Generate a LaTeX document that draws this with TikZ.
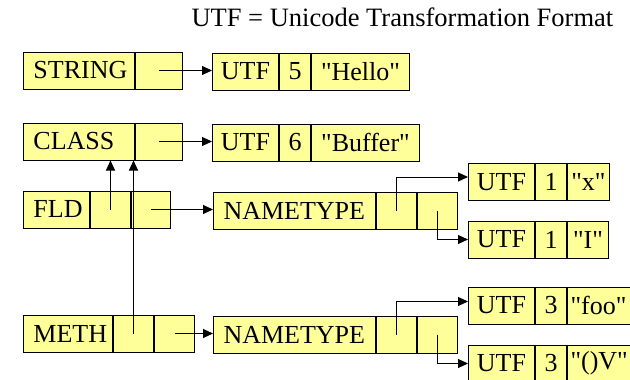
\documentclass[tikz,border=0pt]{standalone}
\usepackage{fontspec}
\setmainfont{Liberation Serif}
\usetikzlibrary{positioning,arrows.meta}
\definecolor{cellyellow}{RGB}{255,255,153}
\newcommand{\qt}[1]{\textquotedbl#1\textquotedbl}
\tikzset{
  cell/.style={draw, fill=cellyellow, line width=1pt, minimum height=37pt, inner sep=0pt},
  namecell/.style={cell, align=left, inner xsep=10pt},
  strcell/.style={cell, align=left, inner xsep=3pt},
  ptr/.style={line width=1pt, -{Triangle[length=10pt,width=9pt]}}
}
\begin{document}
\begin{tikzpicture}[x=1pt, y=-1pt, font=\fontsize{26}{30}\selectfont, node distance=0pt]
\useasboundingbox (0,0) rectangle (630,380);

\node[anchor=base west, font=\fontsize{26.5}{30}\selectfont] (title) at (188,27) {UTF = Unicode Transformation Format};

\node[namecell, text width=91pt, anchor=west] (string) at (23,70.5) {STRING};
\node[cell, minimum width=47pt, right=of string] (stringp) {};
\node[cell, minimum width=66pt, anchor=west] (utfa) at (212,71.5) {UTF};
\node[cell, minimum width=31pt, right=of utfa] (utfan) {5};
\node[cell, minimum width=98pt, right=of utfan] (utfas) {\qt{Hello}};

\node[namecell, text width=91pt, anchor=west] (class) at (23,141.5) {CLASS};
\node[cell, minimum width=47pt, right=of class] (classp) {};
\node[cell, minimum width=66pt, anchor=west] (utfb) at (212,142.5) {UTF};
\node[cell, minimum width=31pt, right=of utfb] (utfbn) {6};
\node[cell, minimum width=108pt, right=of utfbn] (utfbs) {\qt{Buffer}};

\node[namecell, text width=46pt, anchor=west] (fld) at (23,209.5) {FLD};
\node[cell, minimum width=40pt, right=of fld] (fldc) {};
\node[cell, minimum width=39pt, right=of fldc] (fldn) {};
\node[namecell, text width=142pt, anchor=west] (ntf) at (213,210.5) {NAMETYPE};
\node[cell, minimum width=40pt, right=of ntf] (ntfa) {};
\node[cell, minimum width=40pt, right=of ntfa] (ntfb) {};
\node[cell, minimum width=66pt, anchor=west] (utfx) at (468,182) {UTF};
\node[cell, minimum width=31pt, right=of utfx] (utfxn) {1};
\node[cell, minimum width=42pt, right=of utfxn] (utfxs) {\qt{x}};
\node[cell, minimum width=66pt, anchor=west] (utfi) at (468,239.5) {UTF};
\node[cell, minimum width=31pt, right=of utfi] (utfin) {1};
\node[cell, minimum width=41pt, right=of utfin] (utfis) {\qt{I}};

\node[namecell, text width=69pt, anchor=west] (meth) at (23,333.5) {METH};
\node[cell, minimum width=40pt, right=of meth] (methc) {};
\node[cell, minimum width=40pt, right=of methc] (methn) {};
\node[namecell, text width=142pt, anchor=west] (ntm) at (213,334.5) {NAMETYPE};
\node[cell, minimum width=40pt, right=of ntm] (ntma) {};
\node[cell, minimum width=40pt, right=of ntma] (ntmb) {};
\node[cell, minimum width=66pt, anchor=west] (utffoo) at (468,305.5) {UTF};
\node[cell, minimum width=31pt, right=of utffoo] (utffoon) {3};
\node[strcell, text width=64pt, right=of utffoon] (utffoos) {\qt{foo}};
\node[cell, minimum width=66pt, anchor=west] (utfv) at (468,363.5) {UTF};
\node[cell, minimum width=31pt, right=of utfv] (utfvn) {3};
\node[strcell, text width=64pt, right=of utfvn] (utfvs) {\qt{()V}};

\draw[ptr] (stringp.center) -- (stringp.center -| utfa.west);
\draw[ptr] (classp.center) -- (classp.center -| utfb.west);
\draw[ptr] (fldn.center) -- (fldn.center -| ntf.west);
\draw[ptr] (methn.center) -- (methn.center -| ntm.west);
\draw[ptr] (fldc.center) -- (fldc.center |- class.south);
\draw[ptr] (methc.center) -- (methc.center |- class.south);
\draw[ptr] (ntfa.center) |- ([yshift=5pt]utfx.west);
\draw[ptr] (ntfb.center) |- (utfi.west);
\draw[ptr] (ntma.center) |- ([yshift=4pt]utffoo.west);
\draw[ptr] (ntmb.center) |- (utfv.west);
\end{tikzpicture}
\end{document}
